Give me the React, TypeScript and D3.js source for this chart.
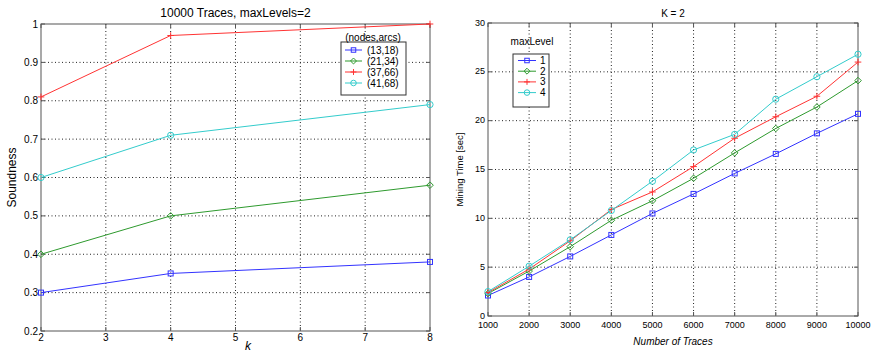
import React from "react";
import * as d3 from "d3";

const kValues = [2, 4, 8];
const soundSeriesNames = ["(13,18)", "(21,34)", "(37,66)", "(41,68)"];
const sound13 = [0.3, 0.35, 0.38];
const sound21 = [0.4, 0.5, 0.58];
const sound37 = [0.81, 0.97, 1.0];
const sound41 = [0.6, 0.71, 0.79];
const leftXTicks = [2, 3, 4, 5, 6, 7, 8];
const leftYTicks = [0.2, 0.3, 0.4, 0.5, 0.6, 0.7, 0.8, 0.9, 1];

const traces = [1000, 2000, 3000, 4000, 5000, 6000, 7000, 8000, 9000, 10000];
const levelNames = ["1", "2", "3", "4"];
const time1 = [2.1, 4.0, 6.1, 8.3, 10.5, 12.5, 14.6, 16.6, 18.7, 20.7];
const time2 = [2.3, 4.6, 7.1, 9.8, 11.8, 14.1, 16.7, 19.2, 21.4, 24.1];
const time3 = [2.4, 4.8, 7.7, 10.9, 12.7, 15.3, 18.2, 20.4, 22.5, 26.0];
const time4 = [2.5, 5.1, 7.8, 10.8, 13.8, 17.0, 18.6, 22.2, 24.5, 26.8];
const rightYTicks = [0, 5, 10, 15, 20, 25, 30];

const colors = ["#3333ff", "#2e9a2e", "#ff3333", "#33cccc"];
const markers = ["square", "diamond", "plus", "circle"];
const FONT = "Liberation Sans, Arial, sans-serif";

function Marker({ type, x, y, color, size = 1 }: { type: string; x: number; y: number; color: string; size?: number }) {
  if (type === "square")
    return <rect x={x - 2.5 * size} y={y - 2.5 * size} width={5 * size} height={5 * size} fill="none" stroke={color} strokeWidth={1} />;
  if (type === "diamond") {
    const r = 3.3 * size;
    return <path d={`M${x},${y - r}L${x + r},${y}L${x},${y + r}L${x - r},${y}Z`} fill="none" stroke={color} strokeWidth={1} />;
  }
  if (type === "plus") {
    const r = 3.3 * size;
    return <path d={`M${x - r},${y}L${x + r},${y}M${x},${y - r}L${x},${y + r}`} fill="none" stroke={color} strokeWidth={1} />;
  }
  return <circle cx={x} cy={y} r={3.1 * size} fill="none" stroke={color} strokeWidth={1} />;
}

export default function App() {
  // Left chart
  const L = { left: 41, right: 430, top: 24, bottom: 331 };
  const xL = d3.scaleLinear().domain([2, 8]).range([L.left, L.right]);
  const yL = d3.scaleLinear().domain([0.2, 1]).range([L.bottom, L.top]);
  const soundData = [sound13, sound21, sound37, sound41];
  const lineL = d3.line<[number, number]>().x((d) => xL(d[0])).y((d) => yL(d[1]));

  // Right chart
  const R = { left: 488, right: 858, top: 23, bottom: 316 };
  const xR = d3.scaleLinear().domain([1000, 10000]).range([R.left, R.right]);
  const yR = d3.scaleLinear().domain([0, 30]).range([R.bottom, R.top]);
  const timeData = [time1, time2, time3, time4];
  const lineR = d3.line<[number, number]>().x((d) => xR(d[0])).y((d) => yR(d[1]));

  const gridStyle = { stroke: "#222", strokeWidth: 1, strokeDasharray: "1 2.5" } as const;
  const axisColor = "#555";

  return (
    <svg width={876} height={353} style={{ position: "absolute", left: 0, top: 0, background: "#fff" }} fontFamily={FONT}>
      <rect x={0} y={0} width={876} height={353} fill="#fff" />
      {/* ---------- LEFT CHART ---------- */}
      <g>
        {leftXTicks.slice(1, -1).map((t) => (
          <line key={"gx" + t} x1={xL(t)} x2={xL(t)} y1={L.top} y2={L.bottom} {...gridStyle} />
        ))}
        {leftYTicks.slice(1, -1).map((t) => (
          <line key={"gy" + t} x1={L.left} x2={L.right} y1={yL(t)} y2={yL(t)} {...gridStyle} />
        ))}
        <rect x={L.left} y={L.top} width={L.right - L.left} height={L.bottom - L.top} fill="none" stroke={axisColor} strokeWidth={1} />
        {leftXTicks.map((t) => (
          <g key={"tx" + t}>
            <line x1={xL(t)} x2={xL(t)} y1={L.bottom} y2={L.bottom - 4} stroke={axisColor} />
            <line x1={xL(t)} x2={xL(t)} y1={L.top} y2={L.top + 4} stroke={axisColor} />
            <text x={xL(t)} y={L.bottom + 10} fontSize={10} textAnchor="middle" fill="#000">{t}</text>
          </g>
        ))}
        {leftYTicks.map((t) => (
          <g key={"ty" + t}>
            <line x1={L.left} x2={L.left + 4} y1={yL(t)} y2={yL(t)} stroke={axisColor} />
            <line x1={L.right} x2={L.right - 4} y1={yL(t)} y2={yL(t)} stroke={axisColor} />
            <text x={L.left - 3} y={yL(t) + 3.5} fontSize={10} textAnchor="end" fill="#000">{String(t)}</text>
          </g>
        ))}
        {soundData.map((vals, i) => {
          const pts = kValues.map((k, j) => [k, vals[j]] as [number, number]);
          return (
            <g key={"sl" + i}>
              <path d={lineL(pts) || ""} fill="none" stroke={colors[i]} strokeWidth={1} />
              {pts.map((p, j) => (
                <Marker key={j} type={markers[i]} x={xL(p[0])} y={yL(p[1])} color={colors[i]} />
              ))}
            </g>
          );
        })}
        <text x={(L.left + L.right) / 2} y={17} fontSize={12} textAnchor="middle" fill="#000">10000 Traces, maxLevels=2</text>
        <text x={248} y={350} fontSize={12} fontStyle="italic" textAnchor="middle" fill="#000">k</text>
        <text transform={`translate(16,${(L.top + L.bottom) / 2}) rotate(-90)`} fontSize={12} textAnchor="middle" fill="#000">Soundness</text>
        {/* legend */}
        <rect x={341} y={42} width={65} height={53} fill="#fff" stroke="#333" strokeWidth={1} />
        <text x={373} y={41} fontSize={10} textAnchor="middle" fill="#000">(nodes,arcs)</text>
        {soundSeriesNames.map((name, i) => {
          const y = 50 + i * 11;
          return (
            <g key={"lg" + i}>
              <line x1={345} x2={362} y1={y} y2={y} stroke={colors[i]} />
              <Marker type={markers[i]} x={353.5} y={y} color={colors[i]} size={0.9} />
              <text x={367} y={y + 3.5} fontSize={10} fill="#000">{name}</text>
            </g>
          );
        })}
      </g>

      {/* ---------- RIGHT CHART ---------- */}
      <g>
        {traces.slice(1, -1).map((t) => (
          <line key={"rgx" + t} x1={xR(t)} x2={xR(t)} y1={R.top} y2={R.bottom} {...gridStyle} />
        ))}
        {rightYTicks.slice(1, -1).map((t) => (
          <line key={"rgy" + t} x1={R.left} x2={R.right} y1={yR(t)} y2={yR(t)} {...gridStyle} />
        ))}
        <rect x={R.left} y={R.top} width={R.right - R.left} height={R.bottom - R.top} fill="none" stroke={axisColor} strokeWidth={1} />
        {traces.map((t) => (
          <g key={"rtx" + t}>
            <line x1={xR(t)} x2={xR(t)} y1={R.bottom} y2={R.bottom - 4} stroke={axisColor} />
            <line x1={xR(t)} x2={xR(t)} y1={R.top} y2={R.top + 4} stroke={axisColor} />
            <text x={xR(t)} y={R.bottom + 11.5} fontSize={9} textAnchor="middle" fill="#000">{t}</text>
          </g>
        ))}
        {rightYTicks.map((t) => (
          <g key={"rty" + t}>
            <line x1={R.left} x2={R.left + 4} y1={yR(t)} y2={yR(t)} stroke={axisColor} />
            <line x1={R.right} x2={R.right - 4} y1={yR(t)} y2={yR(t)} stroke={axisColor} />
            <text x={R.left - 3} y={yR(t) + 2.5} fontSize={9} textAnchor="end" fill="#000">{t}</text>
          </g>
        ))}
        {timeData.map((vals, i) => {
          const pts = traces.map((t, j) => [t, vals[j]] as [number, number]);
          return (
            <g key={"tl" + i}>
              <path d={lineR(pts) || ""} fill="none" stroke={colors[i]} strokeWidth={1} />
              {pts.map((p, j) => (
                <Marker key={j} type={markers[i]} x={xR(p[0])} y={yR(p[1])} color={colors[i]} />
              ))}
            </g>
          );
        })}
        <text x={(R.left + R.right) / 2} y={17} fontSize={10} textAnchor="middle" fill="#000">K = 2</text>
        <text x={(R.left + R.right) / 2} y={345} fontSize={10} fontStyle="italic" textAnchor="middle" fill="#000">Number of Traces</text>
        <text transform={`translate(463,${(R.top + R.bottom) / 2}) rotate(-90)`} fontSize={9.5} textAnchor="middle" fill="#000">Mining Time [sec]</text>
        {/* legend */}
        <rect x={513} y={54} width={36} height={53} fill="#fff" stroke="#333" strokeWidth={1} />
        <text x={532} y={45} fontSize={10} textAnchor="middle" fill="#000">maxLevel</text>
        {levelNames.map((name, i) => {
          const y = 60.5 + i * 10.7;
          return (
            <g key={"rlg" + i}>
              <line x1={518} x2={536} y1={y} y2={y} stroke={colors[i]} />
              <Marker type={markers[i]} x={527} y={y} color={colors[i]} size={0.9} />
              <text x={540} y={y + 3.5} fontSize={10} fill="#000">{name}</text>
            </g>
          );
        })}
      </g>
    </svg>
  );
}
